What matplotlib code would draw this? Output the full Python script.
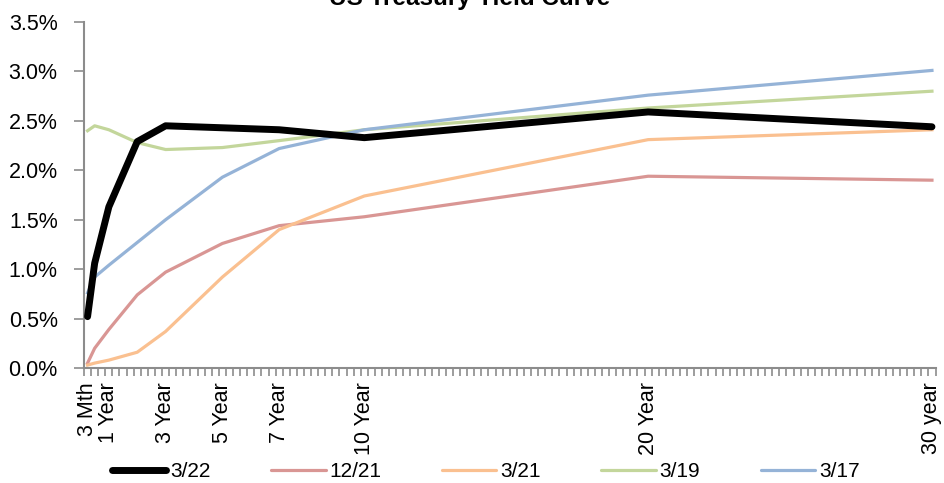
import numpy as np
import matplotlib.pyplot as plt
from matplotlib.ticker import FixedLocator, FuncFormatter

plt.rcParams['font.family'] = ['Liberation Sans', 'DejaVu Sans']

# maturities in years
maturity = [0.25, 0.5, 1, 2, 3, 5, 7, 10, 20, 30]

# yields in percent
y_mar22 = [0.52, 1.06, 1.63, 2.29, 2.45, 2.43, 2.41, 2.33, 2.59, 2.44]
y_dec21 = [0.05, 0.20, 0.39, 0.74, 0.97, 1.26, 1.44, 1.53, 1.94, 1.90]
y_mar21 = [0.03, 0.05, 0.08, 0.16, 0.37, 0.92, 1.40, 1.74, 2.31, 2.41]
y_mar19 = [2.40, 2.45, 2.41, 2.28, 2.21, 2.23, 2.30, 2.41, 2.63, 2.80]
y_mar17 = [0.76, 0.92, 1.04, 1.27, 1.50, 1.93, 2.22, 2.41, 2.76, 3.01]

tick_pos = [0.25, 1, 3, 5, 7, 10, 20, 30]
tick_labels = ["3 Mth", "1 Year", "3 Year", "5 Year", "7 Year", "10 Year", "20 Year", "30 year"]

fig = plt.figure(figsize=(9.44, 4.83), dpi=100)
ax = fig.add_axes([0.089, 0.238, 0.902, 0.7165])

ax.plot(maturity, y_mar22, color="black", lw=5, label="3/22", zorder=6,
        solid_capstyle="round", solid_joinstyle="round")
ax.plot(maturity, y_dec21, color="#D99694", lw=2.3, label="12/21")
ax.plot(maturity, y_mar21, color="#FAC090", lw=2.3, label="3/21")
ax.plot(maturity, y_mar19, color="#C3D69B", lw=2.3, label="3/19")
ax.plot(maturity, y_mar17, color="#95B3D7", lw=2.3, label="3/17")

# quarterly category axis, like the spreadsheet original
ax.set_xlim(0.125, 30.125)
ax.set_ylim(0, 3.5)
ax.set_yticks(np.arange(0, 3.51, 0.5))
ax.yaxis.set_major_formatter(FuncFormatter(lambda v, p: f"{v:.1f}%"))

ax.set_xticks(tick_pos)
ax.set_xticklabels(tick_labels, rotation=90)
ax.xaxis.set_minor_locator(FixedLocator(np.arange(0.125, 30.2, 0.25)))

for s in ["top", "right"]:
    ax.spines[s].set_visible(False)
for s in ["left", "bottom"]:
    ax.spines[s].set_color("#8C8C8C")
    ax.spines[s].set_linewidth(1.5)

ax.tick_params(axis="x", which="major", length=0, labelsize=15.5, pad=10)
ax.tick_params(axis="x", which="minor", length=6, width=1.2, color="#8C8C8C")
ax.tick_params(axis="y", length=7, width=1.2, color="#8C8C8C", labelsize=15.5, pad=12)

fig.text(0.498, 1 - 5 / 483, "US Treasury Yield Curve", ha="center", va="baseline",
         fontsize=17.5, fontweight="bold")

leg = fig.legend(loc="center", bbox_to_anchor=(486 / 944, 0.024), ncol=5, frameon=False,
                 fontsize=15, handlelength=2.6, handletextpad=0.2, columnspacing=2.9)
for h in leg.get_lines():
    h.set_solid_capstyle("round")

fig.savefig("out.png", dpi=100)
